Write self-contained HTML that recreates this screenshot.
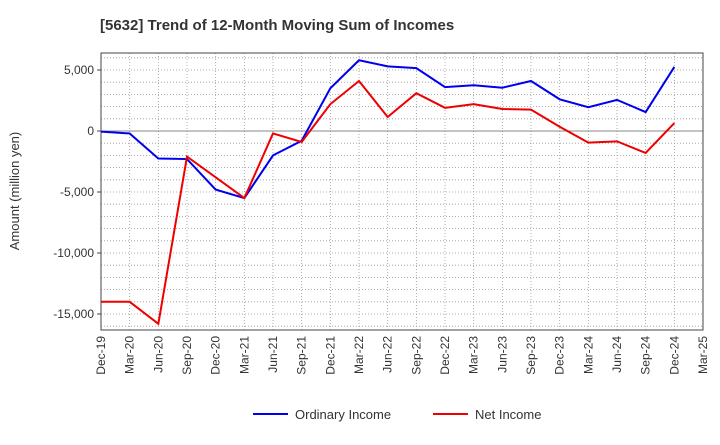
<!DOCTYPE html>
<html><head><meta charset="utf-8"><style>
body{margin:0;background:#fff;font-family:"Liberation Sans",sans-serif;}
</style></head><body>
<svg id="c" width="720" height="440" xmlns="http://www.w3.org/2000/svg">
<text x="100" y="30" font-size="15" font-weight="bold" fill="#333">[5632]  Trend of 12-Month Moving Sum of Incomes</text>
<g id="grid"></g><g id="axes"></g><g id="series"></g>
<text transform="translate(19,191) rotate(-90)" text-anchor="middle" font-size="13" fill="#333">Amount (million yen)</text>
<g>
<line x1="253" y1="414" x2="288" y2="414" stroke="#0000ee" stroke-width="2"/>
<text x="295" y="419" font-size="13" fill="#333">Ordinary Income</text>
<line x1="433" y1="414" x2="468" y2="414" stroke="#ee0000" stroke-width="2"/>
<text x="475" y="419" font-size="13" fill="#333">Net Income</text>
</g>
</svg>
<script>
const categories=["Dec-19","Mar-20","Jun-20","Sep-20","Dec-20","Mar-21","Jun-21","Sep-21","Dec-21","Mar-22","Jun-22","Sep-22","Dec-22","Mar-23","Jun-23","Sep-23","Dec-23","Mar-24","Jun-24","Sep-24","Dec-24","Mar-25"];
const ordinaryIncome=[-50,-200,-2250,-2300,-4800,-5500,-2000,-800,3500,5800,5300,5150,3600,3750,3550,4100,2600,1950,2550,1550,5250];
const netIncome=[-14000,-14000,-15800,-2100,-3800,-5500,-200,-900,2200,4100,1150,3100,1900,2200,1800,1750,350,-950,-850,-1800,650];
const yTicks=[5000,0,-5000,-10000,-15000];
const yTickLabels=["5,000","0","-5,000","-10,000","-15,000"];
const L=101,R=703,T=53,B=330,yMin=-16311,yMax=6393;
const NS="http://www.w3.org/2000/svg";
function X(i){return L+(R-L)*i/(categories.length-1);}
function Y(v){return T+(yMax-v)/(yMax-yMin)*(B-T);}
function mk(tag,attrs,parent){const e=document.createElementNS(NS,tag);for(const k in attrs)e.setAttribute(k,attrs[k]);parent.appendChild(e);return e;}
const grid=document.getElementById('grid'),axes=document.getElementById('axes'),series=document.getElementById('series');
for(let v=-16000;v<=6000;v+=1000){const l=mk('line',{x1:L,x2:R,y1:Y(v),y2:Y(v),stroke:'#999','stroke-width':0.8,'stroke-dasharray':'1,2'},grid);

}
categories.forEach((c,i)=>{const l=mk('line',{x1:X(i),x2:X(i),y1:T,y2:B,stroke:'#999','stroke-width':0.8,'stroke-dasharray':'1,2'},grid);


const t=mk('text',{transform:`translate(${X(i)+4},${B+6}) rotate(-90)`,'text-anchor':'end','font-size':12,fill:'#333'},axes);t.textContent=c;

});
mk('line',{x1:L,x2:R,y1:Y(0),y2:Y(0),stroke:'#888','stroke-width':1},grid);
const box=mk('rect',{x:L,y:T,width:R-L,height:B-T,fill:'none',stroke:'#444','stroke-width':1},axes);


yTicks.forEach((v,i)=>{mk('line',{x1:L-4,x2:L,y1:Y(v),y2:Y(v),stroke:'#444'},axes);
const t=mk('text',{x:L-7,y:Y(v)+4,'text-anchor':'end','font-size':12,fill:'#333'},axes);t.textContent=yTickLabels[i];

});
function line(data,color,name){const p=mk('polyline',{points:data.map((v,i)=>X(i)+','+Y(v)).join(' '),fill:'none',stroke:color,'stroke-width':2},series);

}
line(ordinaryIncome,'#0000ee','ordinary-income-line');
line(netIncome,'#ee0000','net-income-line');
</script>
</body></html>
